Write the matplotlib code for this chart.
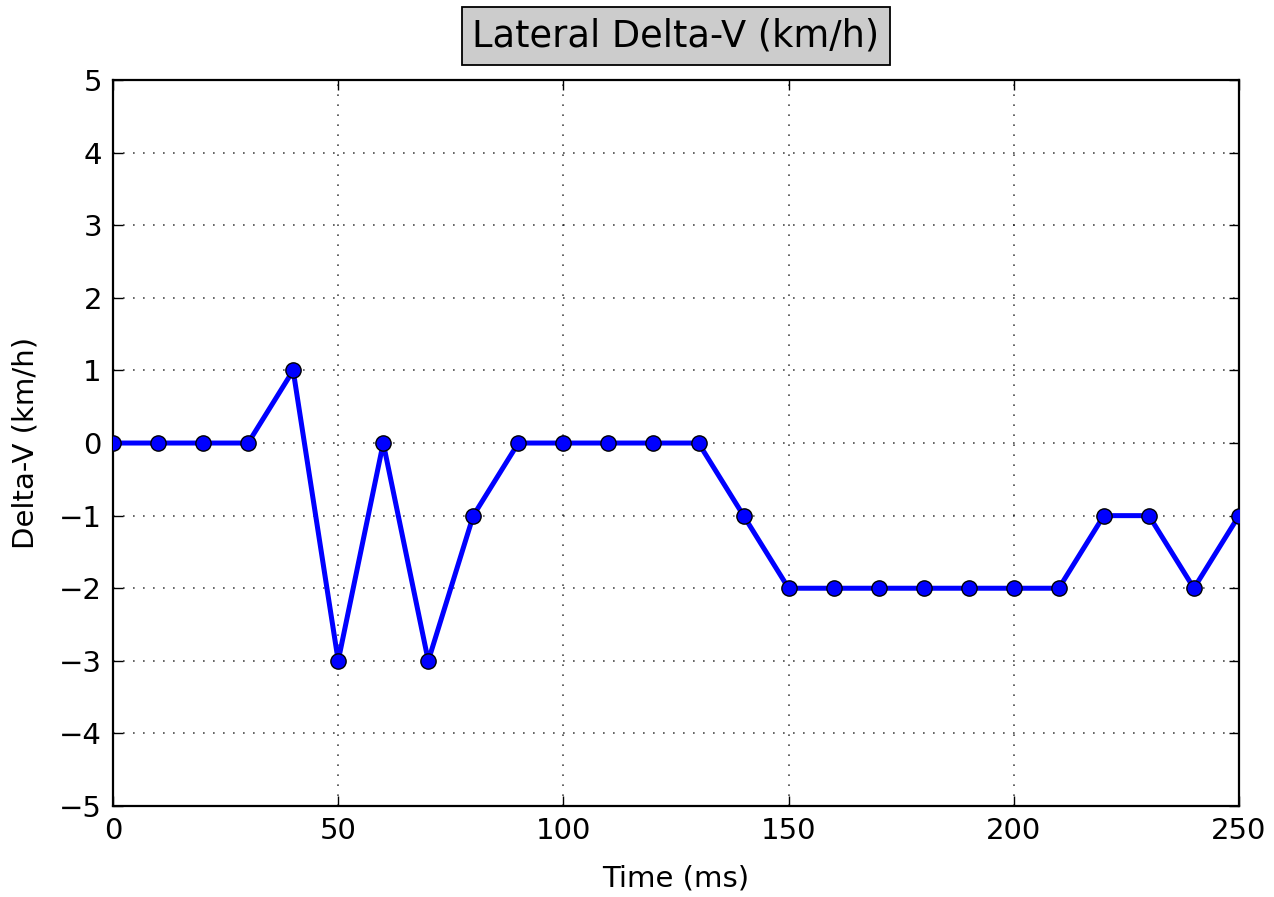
import matplotlib
matplotlib.use("Agg")
import matplotlib.pyplot as plt

# 数据: 横向 Delta-V, 每 10 ms 一个采样
time_ms = [0, 10, 20, 30, 40, 50, 60, 70, 80, 90, 100, 110, 120, 130,
           140, 150, 160, 170, 180, 190, 200, 210, 220, 230, 240, 250]
delta_v = [0, 0, 0, 0, 1, -3, 0, -3, -1, 0, 0, 0, 0, 0,
           -1, -2, -2, -2, -2, -2, -2, -2, -1, -1, -2, -1]
x_ticks = [0, 50, 100, 150, 200, 250]
y_ticks = [-5, -4, -3, -2, -1, 0, 1, 2, 3, 4, 5]

plt.rcParams["font.family"] = ["DejaVu Sans"]

fig = plt.figure(figsize=(12.74, 8.97), dpi=100, facecolor="white")
ax = fig.add_axes([0.0887, 0.1014, 0.9725 - 0.0887, 0.9108 - 0.1014])

ax.plot(time_ms, delta_v, color="blue", linewidth=3.6, marker="o",
        markersize=11, markerfacecolor="blue", markeredgecolor="black",
        markeredgewidth=1.0, zorder=3)

ax.set_xlim(0, 250)
ax.set_ylim(-5, 5)
ax.set_xticks(x_ticks)
ax.set_yticks(y_ticks)
ax.set_yticklabels([f"\u2212{abs(v)}" if v < 0 else str(v) for v in y_ticks])
ax.grid(True, linestyle=(0, (1, 5)), linewidth=1.2, color="black", alpha=0.7)
ax.tick_params(direction="in", length=7, width=1.0, labelsize=21,
               top=True, right=True, pad=8)
for sp in ax.spines.values():
    sp.set_linewidth(1.6)

ax.set_xlabel("Time (ms)", fontsize=21, labelpad=14)
ax.set_ylabel("Delta-V (km/h)", fontsize=21, labelpad=14)
ax.set_title("Lateral Delta-V (km/h)", fontsize=26.5, pad=24,
             bbox=dict(facecolor="#cccccc", edgecolor="black", linewidth=1.3,
                       boxstyle="square,pad=0.28"))

fig.savefig("out.png", dpi=100, facecolor="white")
